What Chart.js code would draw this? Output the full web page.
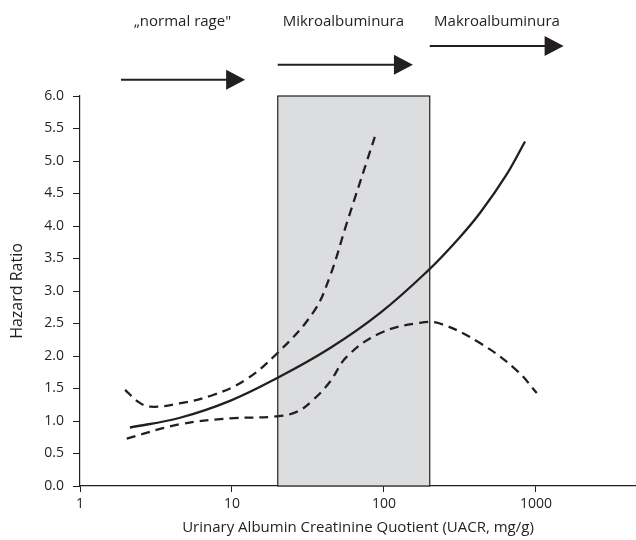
<!DOCTYPE html>
<html>
<head>
<meta charset="utf-8">
<script src="https://cdn.jsdelivr.net/npm/chart.js@4.4.1/dist/chart.umd.min.js"></script>
<style>
    html, body { margin: 0; padding: 0; background: #fff; }
    #wrap { width: 636px; height: 540px; }
</style>
</head>
<body>
<div id="wrap"><canvas id="hrChart" width="636" height="540"></canvas></div>
<script>
    // values (UACR in mg/g, hazard ratio)
    var hrX = [2.13, 4.55, 9.7, 19.4, 44, 94, 194, 300, 428, 640, 847];
    var hrY = [0.90, 1.05, 1.31, 1.65, 2.12, 2.66, 3.31, 3.77, 4.20, 4.79, 5.30];

    var upperX = [1.98, 2.4, 2.89, 4.5, 7.5, 12, 19.4, 34, 44, 57, 87];
    var upperY = [1.48, 1.30, 1.22, 1.27, 1.40, 1.62, 2.02, 2.66, 3.22, 4.05, 5.37];

    var lowerX = [2.03, 4.55, 9.7, 19.4, 26.6, 34, 44, 57, 94, 172, 233, 428, 746, 1012];
    var lowerY = [0.73, 0.95, 1.04, 1.07, 1.14, 1.32, 1.60, 1.99, 2.35, 2.51, 2.50, 2.20, 1.78, 1.43];

    var xTicks = [1, 10, 100, 1000];
    var microRange = [20, 200];

    // category arrows above the plot
    var rangeLabels = ["\u201Enormal rage\"", "Mikroalbuminura", "Makroalbuminura"];
    var arrowFrom = [1.86, 20, 200];
    var arrowTo = [12.2, 155, 1520];
    var arrowY = [6.25, 6.48, 6.77];
    var labelX = [4.72, 54, 554];
    var labelY = 7.15;

    var fontFamily = "'Open Sans', 'Noto Sans', sans-serif";
    var ink = '#231f20';

    function toPoints(xs, ys) {
        return xs.map(function (x, i) {
            return {x: x, y: ys[i]};
        });
    }

    var boxPlugin = {
        id: 'microBox',
        beforeDatasetsDraw: function (chart) {
            var ctx = chart.ctx;
            var xs = chart.scales.x, ys = chart.scales.y;
            var x0 = xs.getPixelForValue(microRange[0]);
            var x1 = xs.getPixelForValue(microRange[1]);
            var y0 = ys.getPixelForValue(6);
            var y1 = ys.getPixelForValue(0);
            ctx.save();
            ctx.fillStyle = '#dcdddf';
            ctx.fillRect(x0, y0, x1 - x0, y1 - y0);
            ctx.strokeStyle = ink;
            ctx.lineWidth = 1.2;
            ctx.strokeRect(x0, y0, x1 - x0, y1 - y0);
            ctx.restore();
        },
        afterDraw: function (chart) {
            var ctx = chart.ctx;
            var xs = chart.scales.x, ys = chart.scales.y;
            ctx.save();
            ctx.strokeStyle = ink;
            ctx.fillStyle = ink;
            for (var i = 0; i < rangeLabels.length; i++) {
                var a = xs.getPixelForValue(arrowFrom[i]);
                var b = xs.getPixelForValue(arrowTo[i]);
                var y = ys.getPixelForValue(arrowY[i]);
                ctx.lineWidth = 2;
                ctx.beginPath();
                ctx.moveTo(a, y);
                ctx.lineTo(b - 17, y);
                ctx.stroke();
                ctx.beginPath();
                ctx.moveTo(b, y);
                ctx.lineTo(b - 19, y - 10);
                ctx.lineTo(b - 19, y + 10);
                ctx.closePath();
                ctx.fill();

                ctx.font = '15px ' + fontFamily;
                ctx.textAlign = 'center';
                ctx.textBaseline = 'middle';
                ctx.fillText(rangeLabels[i], xs.getPixelForValue(labelX[i]), ys.getPixelForValue(labelY));
            }
            ctx.restore();
        }
    };

    var config = {
        type: 'line',
        data: {
            datasets: [
                {
                    label: 'HR',
                    data: toPoints(hrX, hrY),
                    borderColor: ink,
                    borderWidth: 2.3,
                    pointRadius: 0,
                    tension: 0.4,
                    fill: false
                },
                {
                    label: 'upper',
                    data: toPoints(upperX, upperY),
                    borderColor: ink,
                    borderWidth: 2.3,
                    borderDash: [9, 6],
                    pointRadius: 0,
                    tension: 0.4,
                    fill: false
                },
                {
                    label: 'lower',
                    data: toPoints(lowerX, lowerY),
                    borderColor: ink,
                    borderWidth: 2.3,
                    borderDash: [9, 6],
                    pointRadius: 0,
                    tension: 0.4,
                    fill: false
                }
            ]
        },
        options: {
            responsive: false,
            animation: false,
            layout: {
                padding: {top: 96, right: 0, left: 0, bottom: 0}
            },
            plugins: {
                legend: {display: false},
                tooltip: {enabled: false},
                title: {display: false}
            },
            scales: {
                x: {
                    type: 'logarithmic',
                    min: 1,
                    max: 4550,
                    afterBuildTicks: function (scale) {
                        scale.ticks = xTicks.map(function (v) {
                            return {value: v};
                        });
                    },
                    afterFit: function (scale) {
                        scale.height = 54;
                    },
                    grid: {
                        display: true,
                        drawOnChartArea: false,
                        drawTicks: true,
                        tickLength: 6,
                        color: ink
                    },
                    border: {display: true, color: ink, width: 1.2},
                    ticks: {
                        color: ink,
                        font: {family: fontFamily, size: 14},
                        padding: 4,
                        maxRotation: 0,
                        autoSkip: false,
                        callback: function (v) {
                            return String(v);
                        }
                    },
                    title: {
                        display: true,
                        text: 'Urinary Albumin Creatinine Quotient (UACR, mg/g)',
                        color: ink,
                        font: {family: fontFamily, size: 15},
                        padding: {top: 0, bottom: 3}
                    }
                },
                y: {
                    min: 0,
                    max: 6,
                    afterFit: function (scale) {
                        scale.width = 80;
                    },
                    grid: {
                        display: true,
                        drawOnChartArea: false,
                        drawTicks: true,
                        tickLength: 7,
                        color: ink
                    },
                    border: {display: true, color: ink, width: 1.2},
                    ticks: {
                        stepSize: 0.5,
                        color: ink,
                        font: {family: fontFamily, size: 14},
                        padding: 9,
                        callback: function (v) {
                            return Number(v).toFixed(1);
                        }
                    },
                    title: {
                        display: true,
                        text: 'Hazard Ratio',
                        color: ink,
                        font: {family: fontFamily, size: 16},
                        padding: {top: 8, bottom: 0}
                    }
                }
            }
        },
        plugins: [boxPlugin]
    };

    var ctx = document.getElementById("hrChart").getContext("2d");
    window.hrChart = new Chart(ctx, config);
</script>
</body>
</html>
